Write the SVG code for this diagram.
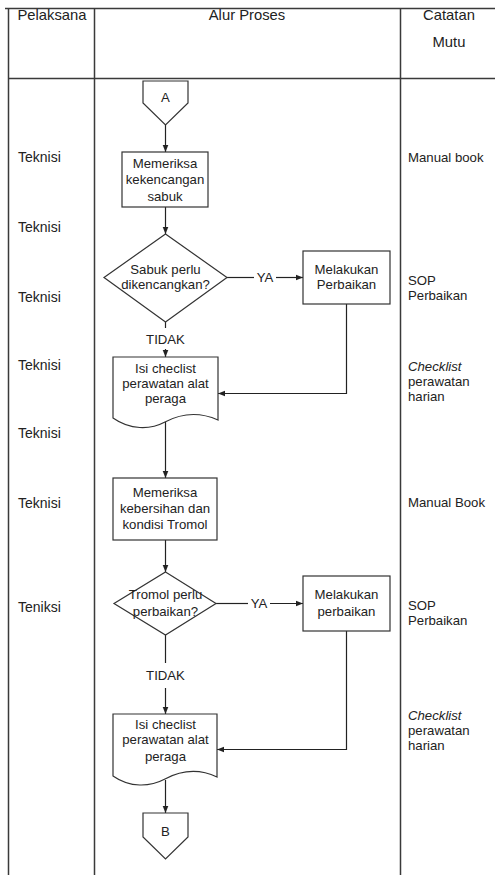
<svg xmlns="http://www.w3.org/2000/svg" width="495" height="875" viewBox="0 0 495 875">
  <style>
    text { font-family: "Liberation Sans", Arial, sans-serif; fill: #222; }
    .hd { font-size: 14.8px; text-anchor: middle; }
    .who { font-size: 14px; }
    .rec { font-size: 13.2px; }
    .lbl { font-size: 13.2px; text-anchor: middle; }
    .grid { stroke: #3a3a3a; stroke-width: 1.5; fill: none; }
    .shape { fill: #fff; stroke: #333; stroke-width: 1.2; }
    .flow { fill: none; stroke: #222; stroke-width: 1.2; }
  </style>
  <defs>
    <marker id="arrow" viewBox="0 0 8 8" refX="8" refY="4" markerWidth="7" markerHeight="7" markerUnits="userSpaceOnUse" orient="auto">
      <path d="M0,0.8 L8,4 L0,7.2 Z" fill="#222"/>
    </marker>
  </defs>
  <rect width="495" height="875" fill="#fff"/>

  <!-- table grid -->
  <g id="table">
    <path class="grid" d="M5,8.5 H495 M8.5,8 V875 M94.5,8 V875 M400.5,8 V875 M8,78.5 H495"/>
    <text class="hd" x="52" y="20">Pelaksana</text>
    <text class="hd" x="247" y="20">Alur Proses</text>
    <text class="hd" x="449" y="20">Catatan</text>
    <text class="hd" x="449" y="47">Mutu</text>
  </g>

  <!-- executor column -->
  <g id="pelaksana">
    <text class="who" x="18" y="162">Teknisi</text>
    <text class="who" x="18" y="232">Teknisi</text>
    <text class="who" x="18" y="302">Teknisi</text>
    <text class="who" x="18" y="370">Teknisi</text>
    <text class="who" x="18" y="438">Teknisi</text>
    <text class="who" x="18" y="508">Teknisi</text>
    <text class="who" x="18" y="612">Teniksi</text>
  </g>

  <!-- quality record column -->
  <g id="catatan">
    <text class="rec" x="408" y="162">Manual book</text>
    <text class="rec" x="408" y="285">SOP</text>
    <text class="rec" x="408" y="300">Perbaikan</text>
    <text class="rec" x="408" y="371" font-style="italic">Checklist</text>
    <text class="rec" x="408" y="386">perawatan</text>
    <text class="rec" x="408" y="401">harian</text>
    <text class="rec" x="408" y="507">Manual Book</text>
    <text class="rec" x="408" y="610">SOP</text>
    <text class="rec" x="408" y="625">Perbaikan</text>
    <text class="rec" x="408" y="720" font-style="italic">Checklist</text>
    <text class="rec" x="408" y="735">perawatan</text>
    <text class="rec" x="408" y="750">harian</text>
  </g>

  <!-- connectors -->
  <g id="connectors">
    <line class="flow" x1="165.5" y1="125" x2="165.5" y2="152" marker-end="url(#arrow)"/>
    <line class="flow" x1="165.5" y1="207" x2="165.5" y2="234" marker-end="url(#arrow)"/>
    <line class="flow" x1="227" y1="277.5" x2="254" y2="277.5"/>
    <line class="flow" x1="276" y1="277.5" x2="303" y2="277.5" marker-end="url(#arrow)"/>
    <text class="lbl" x="265" y="282">YA</text>
    <line class="flow" x1="165.5" y1="322" x2="165.5" y2="328"/>
    <text class="lbl" x="165.5" y="344">TIDAK</text>
    <line class="flow" x1="165.5" y1="349" x2="165.5" y2="357" marker-end="url(#arrow)"/>
    <polyline class="flow" points="346.5,304 346.5,393.5 218,393.5" marker-end="url(#arrow)"/>
    <line class="flow" x1="165.5" y1="422" x2="165.5" y2="478" marker-end="url(#arrow)"/>
    <line class="flow" x1="165.5" y1="540" x2="165.5" y2="572" marker-end="url(#arrow)"/>
    <line class="flow" x1="216" y1="603.5" x2="248" y2="603.5"/>
    <line class="flow" x1="270" y1="603.5" x2="303" y2="603.5" marker-end="url(#arrow)"/>
    <text class="lbl" x="259" y="608">YA</text>
    <line class="flow" x1="165.5" y1="635" x2="165.5" y2="663"/>
    <text class="lbl" x="165.5" y="680">TIDAK</text>
    <line class="flow" x1="165.5" y1="688" x2="165.5" y2="714" marker-end="url(#arrow)"/>
    <polyline class="flow" points="346.5,631 346.5,749.5 217,749.5" marker-end="url(#arrow)"/>
    <line class="flow" x1="165.5" y1="780" x2="165.5" y2="813" marker-end="url(#arrow)"/>
  </g>

  <!-- flow nodes -->
  <g id="connector-a">
    <path class="shape" d="M143,81 H188 V103 L165.5,125 L143,103 Z"/>
    <text class="lbl" x="165.5" y="102">A</text>
  </g>
  <g id="cek-sabuk">
    <rect class="shape" x="122" y="152" width="86" height="55"/>
    <text class="lbl" x="165" y="168">Memeriksa</text>
    <text class="lbl" x="165" y="184">kekencangan</text>
    <text class="lbl" x="165" y="201">sabuk</text>
  </g>
  <g id="sabuk-perlu">
    <path class="shape" d="M165.5,234 L227,277.5 L165.5,322 L104,277.5 Z"/>
    <text class="lbl" x="165.5" y="274">Sabuk perlu</text>
    <text class="lbl" x="165.5" y="289">dikencangkan?</text>
  </g>
  <g id="perbaikan-sabuk">
    <rect class="shape" x="303" y="251" width="87" height="53"/>
    <text class="lbl" x="346.5" y="274">Melakukan</text>
    <text class="lbl" x="346.5" y="289">Perbaikan</text>
  </g>
  <g id="checklist-1">
    <path class="shape" d="M113,357 H218 V420 C200,412 182,413 165,422 C150,430 130,430 113,418 Z"/>
    <text class="lbl" x="165.5" y="373">Isi checlist</text>
    <text class="lbl" x="165.5" y="388">perawatan alat</text>
    <text class="lbl" x="165.5" y="403">peraga</text>
  </g>
  <g id="cek-tromol">
    <rect class="shape" x="113" y="478" width="104" height="62"/>
    <text class="lbl" x="165" y="497">Memeriksa</text>
    <text class="lbl" x="165" y="513">kebersihan dan</text>
    <text class="lbl" x="165" y="529">kondisi Tromol</text>
  </g>
  <g id="tromol-perlu">
    <path class="shape" d="M165.5,572 L216,603.5 L165.5,635 L114,603.5 Z"/>
    <text class="lbl" x="165.5" y="599">Tromol perlu</text>
    <text class="lbl" x="165.5" y="616">perbaikan?</text>
  </g>
  <g id="perbaikan-tromol">
    <rect class="shape" x="303" y="576" width="87" height="55"/>
    <text class="lbl" x="346.5" y="599">Melakukan</text>
    <text class="lbl" x="346.5" y="616">perbaikan</text>
  </g>
  <g id="checklist-2">
    <path class="shape" d="M113,714 H217 V777 C200,769 182,770 165,779 C150,787 130,788 113,776 Z"/>
    <text class="lbl" x="165.5" y="729">Isi checlist</text>
    <text class="lbl" x="165.5" y="744">perawatan alat</text>
    <text class="lbl" x="165.5" y="761">peraga</text>
  </g>
  <g id="connector-b">
    <path class="shape" d="M143,813 H188 V837 L165.5,859 L143,837 Z"/>
    <text class="lbl" x="165.5" y="836">B</text>
  </g>
</svg>
